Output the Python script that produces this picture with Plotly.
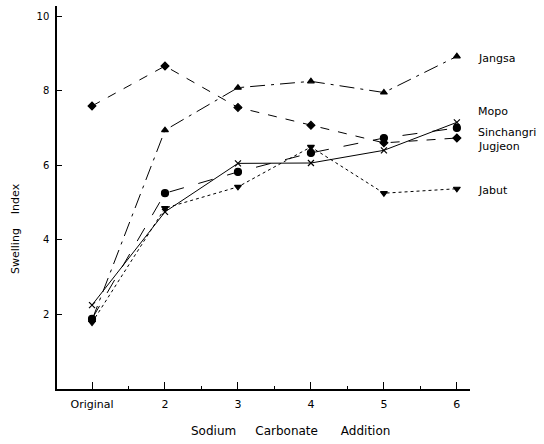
import plotly.graph_objects as go

x_vals = [1, 2, 3, 4, 5, 6]
x_ticktext = ["Original", "2", "3", "4", "5", "6"]

jangsa = [1.85, 6.94, 8.08, 8.25, 7.95, 8.92]
jugjeon = [7.59, 8.66, 7.55, 7.07, 6.6, 6.73]
sinchangri = [1.88, 5.25, 5.82, 6.33, 6.73, 7.0]
mopo = [2.25, 4.75, 6.05, 6.06, 6.4, 7.15]
jabut = [1.78, 4.85, 5.42, 6.49, 5.25, 5.37]

series = [
    ("Jangsa", jangsa, "longdashdot", "triangle-up", 6),
    ("Jugjeon", jugjeon, "dash", "diamond", 6),
    ("Sinchangri", sinchangri, "longdash", "circle", 7),
    ("Mopo", mopo, "solid", "x-thin-open", 6),
    ("Jabut", jabut, "dot", "triangle-down", 6),
]

label_y = {"Jangsa": 8.85, "Mopo": 7.43, "Sinchangri": 6.89, "Jugjeon": 6.49, "Jabut": 5.31}

fig = go.Figure()
for name, vals, dash, sym, size in series:
    fig.add_trace(go.Scatter(
        x=x_vals, y=vals, mode="lines+markers", name=name,
        line=dict(color="black", width=1, dash=dash),
        marker=dict(symbol=sym, size=size, color="black",
                    line=dict(color="black", width=1.2)),
        showlegend=False,
    ))

for name, yv in label_y.items():
    fig.add_annotation(x=6, y=yv, text=name, showarrow=False, xanchor="left",
                       xshift=19, font=dict(size=11, color="black"))

# axis titles
fig.add_annotation(
    xref="paper", yref="paper", x=(290 - 57) / (470 - 57), y=-(431 - 389) / (389 - 6),
    text="Sodium\u00a0\u00a0\u00a0\u00a0\u00a0Carbonate\u00a0\u00a0\u00a0\u00a0\u00a0\u00a0Addition",
    showarrow=False, xanchor="center", yanchor="middle", font=dict(size=12, color="black"))
fig.add_annotation(
    xref="paper", yref="paper", x=-(57 - 15) / (470 - 57), y=(389 - 229) / (389 - 6),
    text="Swelling\u00a0\u00a0\u00a0\u00a0Index", textangle=-90,
    showarrow=False, xanchor="center", yanchor="middle", font=dict(size=11, color="black"))

fig.update_layout(
    width=544, height=444,
    margin=dict(l=57, r=74, t=6, b=55),
    paper_bgcolor="white", plot_bgcolor="white",
    font=dict(family="DejaVu Sans", size=10, color="black"),
)
fig.update_xaxes(
    range=[0.52, 6.18], tickvals=x_vals, ticktext=x_ticktext,
    showgrid=False, zeroline=False, showline=True, linecolor="black", linewidth=1.5,
    ticks="inside", ticklen=7, tickcolor="black", tickfont=dict(size=11),
    ticklabelstandoff=4,
    minor=dict(tickvals=[1.5, 2.5, 3.5, 4.5, 5.5], ticks="inside", ticklen=3, tickcolor="black"),
)
fig.update_yaxes(
    range=[0, 10.27], tickvals=[2, 4, 6, 8, 10],
    showgrid=False, zeroline=False, showline=True, linecolor="black", linewidth=1.5,
    ticks="inside", ticklen=5, tickcolor="black", tickfont=dict(size=10),
    ticklabelstandoff=4,
)

fig.write_html("out.html")
